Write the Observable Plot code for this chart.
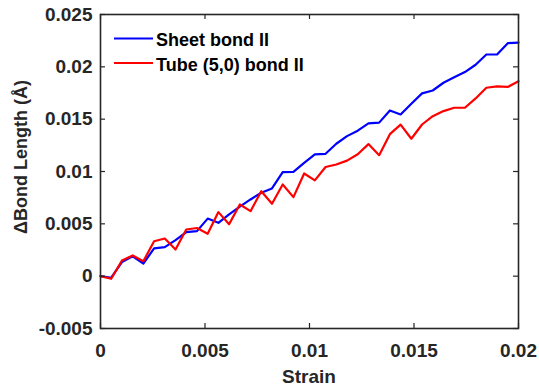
<!DOCTYPE html>
<html><head><meta charset="utf-8">
<script src="https://cdn.jsdelivr.net/npm/d3@7"></script>
<script src="https://cdn.jsdelivr.net/npm/@observablehq/plot@0.6"></script>
<style>body{margin:0;background:#fff}#chart svg{display:block}</style>
</head><body><div id="chart"></div>
<script>
const strain = [0, 0.000513, 0.001026, 0.001538, 0.002051, 0.002564, 0.003077, 0.00359, 0.004103, 0.004615,
  0.005128, 0.005641, 0.006154, 0.006667, 0.007179, 0.007692, 0.008205, 0.008718, 0.009231, 0.009744,
  0.010256, 0.010769, 0.011282, 0.011795, 0.012308, 0.012821, 0.013333, 0.013846, 0.014359, 0.014872,
  0.015385, 0.015897, 0.01641, 0.016923, 0.017436, 0.017949, 0.018462, 0.018974, 0.019487, 0.02];
const sheetBond = [0, -0.00015, 0.00134, 0.0019, 0.00121, 0.00265, 0.00277, 0.00344, 0.0042, 0.0043,
  0.0055, 0.0051, 0.0059, 0.00665, 0.00733, 0.00797, 0.00838, 0.00994, 0.00997, 0.01083,
  0.01163, 0.01169, 0.01265, 0.01338, 0.0139, 0.0146, 0.01467, 0.01583, 0.01545, 0.01648,
  0.01746, 0.01774, 0.01848, 0.019, 0.0195, 0.0202, 0.02118, 0.02118, 0.02226, 0.02232];
const tubeBond = [0, -0.00025, 0.0015, 0.00198, 0.00143, 0.00334, 0.0036, 0.00255, 0.00446, 0.0046,
  0.00405, 0.00612, 0.00497, 0.00685, 0.00621, 0.00812, 0.00692, 0.00876, 0.00755, 0.00981,
  0.00915, 0.01043, 0.01067, 0.01104, 0.01165, 0.01262, 0.01156, 0.01357, 0.01448, 0.01313,
  0.01449, 0.01529, 0.01577, 0.01609, 0.01609, 0.01698, 0.018, 0.01813, 0.01808, 0.01863];
const xTicks = [0, 0.005, 0.01, 0.015, 0.02];
const yTicks = [-0.005, 0, 0.005, 0.01, 0.015, 0.02, 0.025];
const seriesNames = ["Sheet bond II", "Tube (5,0) bond II"];
const seriesColors = ["#0000ff", "#ff0000"];
const xLabel = "Strain";
const yLabel = "ΔBond Length (Å)";

const data = strain.flatMap((s, i) => [
  {strain: s, value: sheetBond[i], series: seriesNames[0]},
  {strain: s, value: tubeBond[i], series: seriesNames[1]}
]);

const W = 539, H = 386, mL = 100, mR = 21, mT = 14, mB = 58;
const innerW = W - mL - mR, innerH = H - mT - mB;
const axisColor = "#262626";

const legend = (index, scales, values, dims) => {
  const g = d3.create("svg:g");
  seriesNames.forEach((name, i) => {
    const y = dims.marginTop + 24.5 + i * 24.5;
    g.append("line")
      .attr("x1", dims.marginLeft + 14).attr("x2", dims.marginLeft + 53)
      .attr("y1", y).attr("y2", y)
      .attr("stroke", seriesColors[i]).attr("stroke-width", 2);
    g.append("text")
      .attr("x", dims.marginLeft + 56).attr("y", y).attr("dy", "0.42em")
      .attr("text-anchor", "start")
      .attr("font-size", 18).attr("fill", "#000").text(name);
  });
  return g.node();
};

const axisTitles = (index, scales, values, dims) => {
  const g = d3.create("svg:g").attr("fill", axisColor).attr("text-anchor", "middle");
  const cx = dims.marginLeft + (dims.width - dims.marginLeft - dims.marginRight) / 2;
  g.append("text")
    .attr("x", cx).attr("y", dims.height - dims.marginBottom + 55)
    .attr("font-size", 19).text(xLabel);
  const cy = dims.marginTop + (dims.height - dims.marginTop - dims.marginBottom) / 2 - 14;
  g.append("text")
    .attr("transform", `translate(${dims.marginLeft - 73},${cy}) rotate(-90)`)
    .attr("font-size", 18).text(yLabel);
  return g.node();
};

const chart = Plot.plot({
  width: W, height: H,
  marginLeft: mL, marginRight: mR, marginTop: mT, marginBottom: mB,
  style: {fontFamily: "'Liberation Sans', Arial, sans-serif", fontWeight: "bold", fontSize: "19px", background: "#fff"},
  x: {domain: [0, 0.02]},
  y: {domain: [-0.005, 0.025]},
  color: {domain: seriesNames, range: seriesColors},
  marks: [
    Plot.line(data, {x: "strain", y: "value", z: "series", stroke: "series", strokeWidth: 2.2}),
    Plot.tickX(xTicks, {x: d => d, insetTop: innerH - 5, stroke: axisColor, strokeWidth: 1.2}),
    Plot.tickX(xTicks, {x: d => d, insetBottom: innerH - 5, stroke: axisColor, strokeWidth: 1.2}),
    Plot.tickY(yTicks, {y: d => d, insetRight: innerW - 5, stroke: axisColor, strokeWidth: 1.2}),
    Plot.tickY(yTicks, {y: d => d, insetLeft: innerW - 5, stroke: axisColor, strokeWidth: 1.2}),
    Plot.frame({stroke: axisColor, strokeWidth: 1.6}),
    Plot.axisX({ticks: xTicks, tickFormat: d => String(d), tickSize: 0, tickPadding: 15, label: null, color: axisColor}),
    Plot.axisY({ticks: yTicks, tickFormat: d => String(d), tickSize: 0, tickPadding: 8, label: null, color: axisColor}),
    axisTitles,
    legend
  ]
});
document.getElementById("chart").append(chart);
</script>
</body></html>
